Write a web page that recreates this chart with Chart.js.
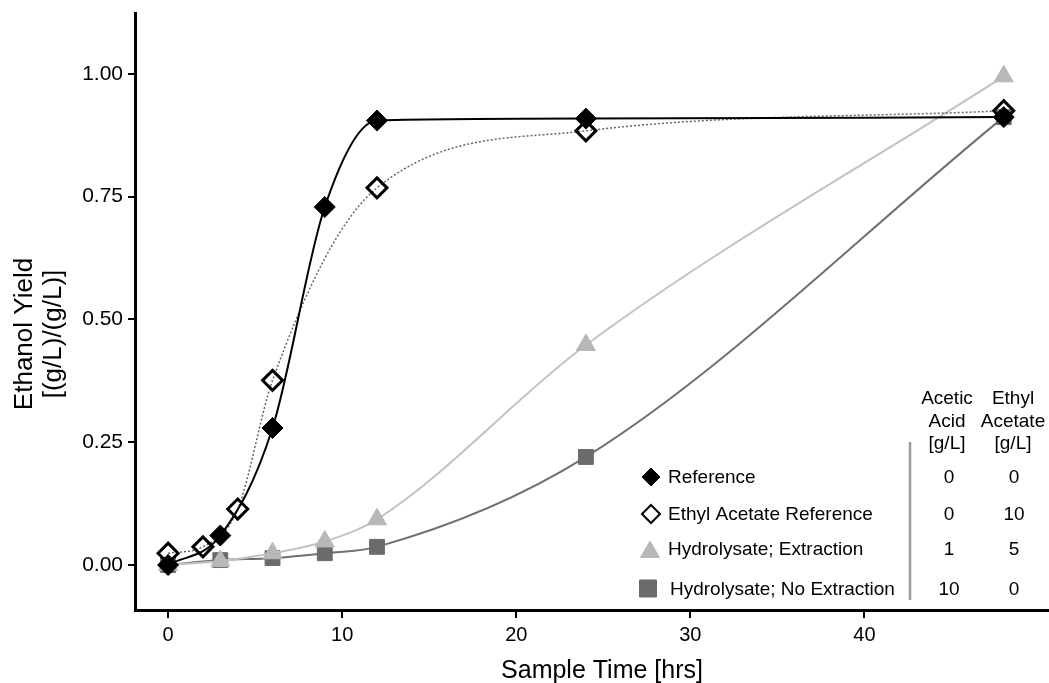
<!DOCTYPE html>
<html>
<head>
<meta charset="utf-8">
<script src="https://cdn.jsdelivr.net/npm/chart.js@4.4.0/dist/chart.umd.min.js"></script>
<style>
body{margin:0;background:#fff;}
canvas{display:block;}
</style>
</head>
<body>
<canvas id="grafico" width="1049" height="683"></canvas>
<script>
// sample times [hrs]
const hoursMain = [0, 3, 6, 9, 12, 24, 48];
const hoursEthyl = [0, 2, 4, 6, 12, 24, 48];

// ethanol yield [(g/L)/(g/L)]
const yieldReference = [0, 0.06, 0.279, 0.729, 0.905, 0.909, 0.912];
const yieldEthylRef = [0.024, 0.037, 0.114, 0.376, 0.768, 0.884, 0.925];
const yieldExtraction = [0, 0.008, 0.024, 0.048, 0.093, 0.448, 0.995];
const yieldNoExtraction = [0, 0.01, 0.014, 0.024, 0.037, 0.22, 0.912];

// legend table
const seriesNames = ["Reference", "Ethyl Acetate Reference", "Hydrolysate; Extraction", "Hydrolysate; No Extraction"];
const aceticAcid = ["0", "0", "1", "10"];
const ethylAcetate = ["0", "10", "5", "0"];
const colHeadAcetic = ["Acetic", "Acid", "[g/L]"];
const colHeadEthyl = ["Ethyl", "Acetate", "[g/L]"];

const xTicks = [0, 10, 20, 30, 40];
const yTicks = [0, 0.25, 0.5, 0.75, 1.0];

const FONT = "'Liberation Sans', Arial, Helvetica, sans-serif";

function punti(ore, valori){
    return ore.map((h, i) => ({x: h, y: valori[i]}));
}

const datasets = [
    {
        label: seriesNames[0],
        data: punti(hoursMain, yieldReference),
        borderColor: "#000",
        borderWidth: 2,
        pointStyle: "rectRot",
        pointRadius: 10.5,
        pointBackgroundColor: "#000",
        pointBorderColor: "#000",
        pointBorderWidth: 1,
        legendFill: "#000",
        legendRadius: 9
    },
    {
        label: seriesNames[1],
        data: punti(hoursEthyl, yieldEthylRef),
        borderColor: "#666",
        borderWidth: 1.5,
        borderDash: [2, 2],
        pointStyle: "rectRot",
        pointRadius: 10,
        pointBackgroundColor: "rgba(0,0,0,0)",
        pointBorderColor: "#000",
        pointBorderWidth: 3,
        legendFill: "#fff",
        legendRadius: 9
    },
    {
        label: seriesNames[2],
        data: punti(hoursMain, yieldExtraction),
        borderColor: "#c2c2c2",
        borderWidth: 2,
        pointStyle: "triangle",
        pointRadius: 11,
        pointBackgroundColor: "#b8b8b8",
        pointBorderColor: "#b8b8b8",
        pointBorderWidth: 1,
        legendFill: "#b8b8b8",
        legendRadius: 11
    },
    {
        label: seriesNames[3],
        data: punti(hoursMain, yieldNoExtraction),
        borderColor: "#707070",
        borderWidth: 2,
        pointStyle: "rect",
        pointRadius: 10.5,
        pointBackgroundColor: "#6b6b6b",
        pointBorderColor: "#6b6b6b",
        pointBorderWidth: 1,
        legendFill: "#6b6b6b",
        legendRadius: 12
    }
];

// axis titles and the legend table are drawn by hand
const disegnaTesti = {
    id: "disegnaTesti",
    afterDraw(chart){
        const ctx = chart.ctx;
        ctx.save();
        ctx.fillStyle = "#000";

        // y title
        ctx.font = "26px " + FONT;
        ctx.textAlign = "center";
        ctx.textBaseline = "alphabetic";
        ctx.save();
        ctx.translate(32, 334);
        ctx.rotate(-Math.PI / 2);
        ctx.fillText("Ethanol Yield", 0, 0);
        ctx.restore();
        ctx.save();
        ctx.translate(60.5, 334);
        ctx.rotate(-Math.PI / 2);
        ctx.fillText("[(g/L)/(g/L)]", 0, 0);
        ctx.restore();

        // x title
        ctx.font = "25px " + FONT;
        ctx.fillText("Sample Time [hrs]", 602, 678);

        // legend rows
        const righe = [483, 520, 555, 595];
        const marcatori = [[651, 477], [651, 514], [650, 552], [648, 588.5]];
        ctx.font = "19px " + FONT;
        for(let i = 0; i < seriesNames.length; i++){
            const ds = chart.data.datasets[i];
            ctx.fillStyle = ds.legendFill;
            ctx.strokeStyle = ds.pointBorderColor;
            ctx.lineWidth = i == 1 ? 2 : 1;
            Chart.helpers.drawPoint(ctx, {
                pointStyle: ds.pointStyle,
                radius: ds.legendRadius,
                rotation: 0,
                borderWidth: ctx.lineWidth
            }, marcatori[i][0], marcatori[i][1]);

            ctx.fillStyle = "#000";
            ctx.textAlign = "left";
            ctx.fillText(seriesNames[i], i == 3 ? 670 : 668, righe[i]);
            ctx.textAlign = "center";
            ctx.fillText(aceticAcid[i], 949, righe[i]);
            ctx.fillText(ethylAcetate[i], 1014, righe[i]);
        }

        // column headers
        const testa = [404, 427, 449];
        for(let j = 0; j < 3; j++){
            ctx.fillText(colHeadAcetic[j], 947, testa[j]);
            ctx.fillText(colHeadEthyl[j], 1013, testa[j]);
        }

        // separator
        ctx.strokeStyle = "#9a9a9a";
        ctx.lineWidth = 2.5;
        ctx.beginPath();
        ctx.moveTo(910, 442);
        ctx.lineTo(910, 600);
        ctx.stroke();

        ctx.restore();
    }
};

const ctx = document.getElementById("grafico");
const myChart = new Chart(ctx, {
    type: "line",
    data: {datasets: datasets},
    options: {
        responsive: false,
        animation: false,
        devicePixelRatio: 1,
        layout: {autoPadding: false, padding: {top: 13, right: 0, bottom: 0, left: 0}},
        elements: {line: {cubicInterpolationMode: "monotone", fill: false}},
        plugins: {legend: {display: false}, tooltip: {enabled: false}},
        scales: {
            x: {
                type: "linear",
                min: -1.9,
                max: 50.6,
                afterBuildTicks: function(scale){ scale.ticks = xTicks.map(v => ({value: v})); },
                afterFit: function(scale){
                    scale.height = 73;
                    scale.paddingLeft = 0;
                    scale.paddingRight = 0;
                },
                border: {display: true, color: "#000", width: 3},
                grid: {display: true, drawOnChartArea: false, drawTicks: true, tickLength: 8, color: "#000", lineWidth: 2},
                ticks: {color: "#000", font: {family: FONT, size: 20}, padding: 5, maxRotation: 0}
            },
            y: {
                type: "linear",
                min: -0.0916,
                max: 1.124,
                afterBuildTicks: function(scale){ scale.ticks = yTicks.map(v => ({value: v})); },
                afterFit: function(scale){
                    scale.width = 135;
                    scale.paddingTop = 0;
                    scale.paddingBottom = 0;
                },
                border: {display: true, color: "#000", width: 3},
                grid: {display: true, drawOnChartArea: false, drawTicks: true, tickLength: 7, color: "#000", lineWidth: 2},
                ticks: {
                    color: "#000",
                    font: {family: FONT, size: 21},
                    padding: 5,
                    callback: function(v){ return Number(v).toFixed(2); }
                }
            }
        }
    },
    plugins: [disegnaTesti]
});
</script>
</body>
</html>
